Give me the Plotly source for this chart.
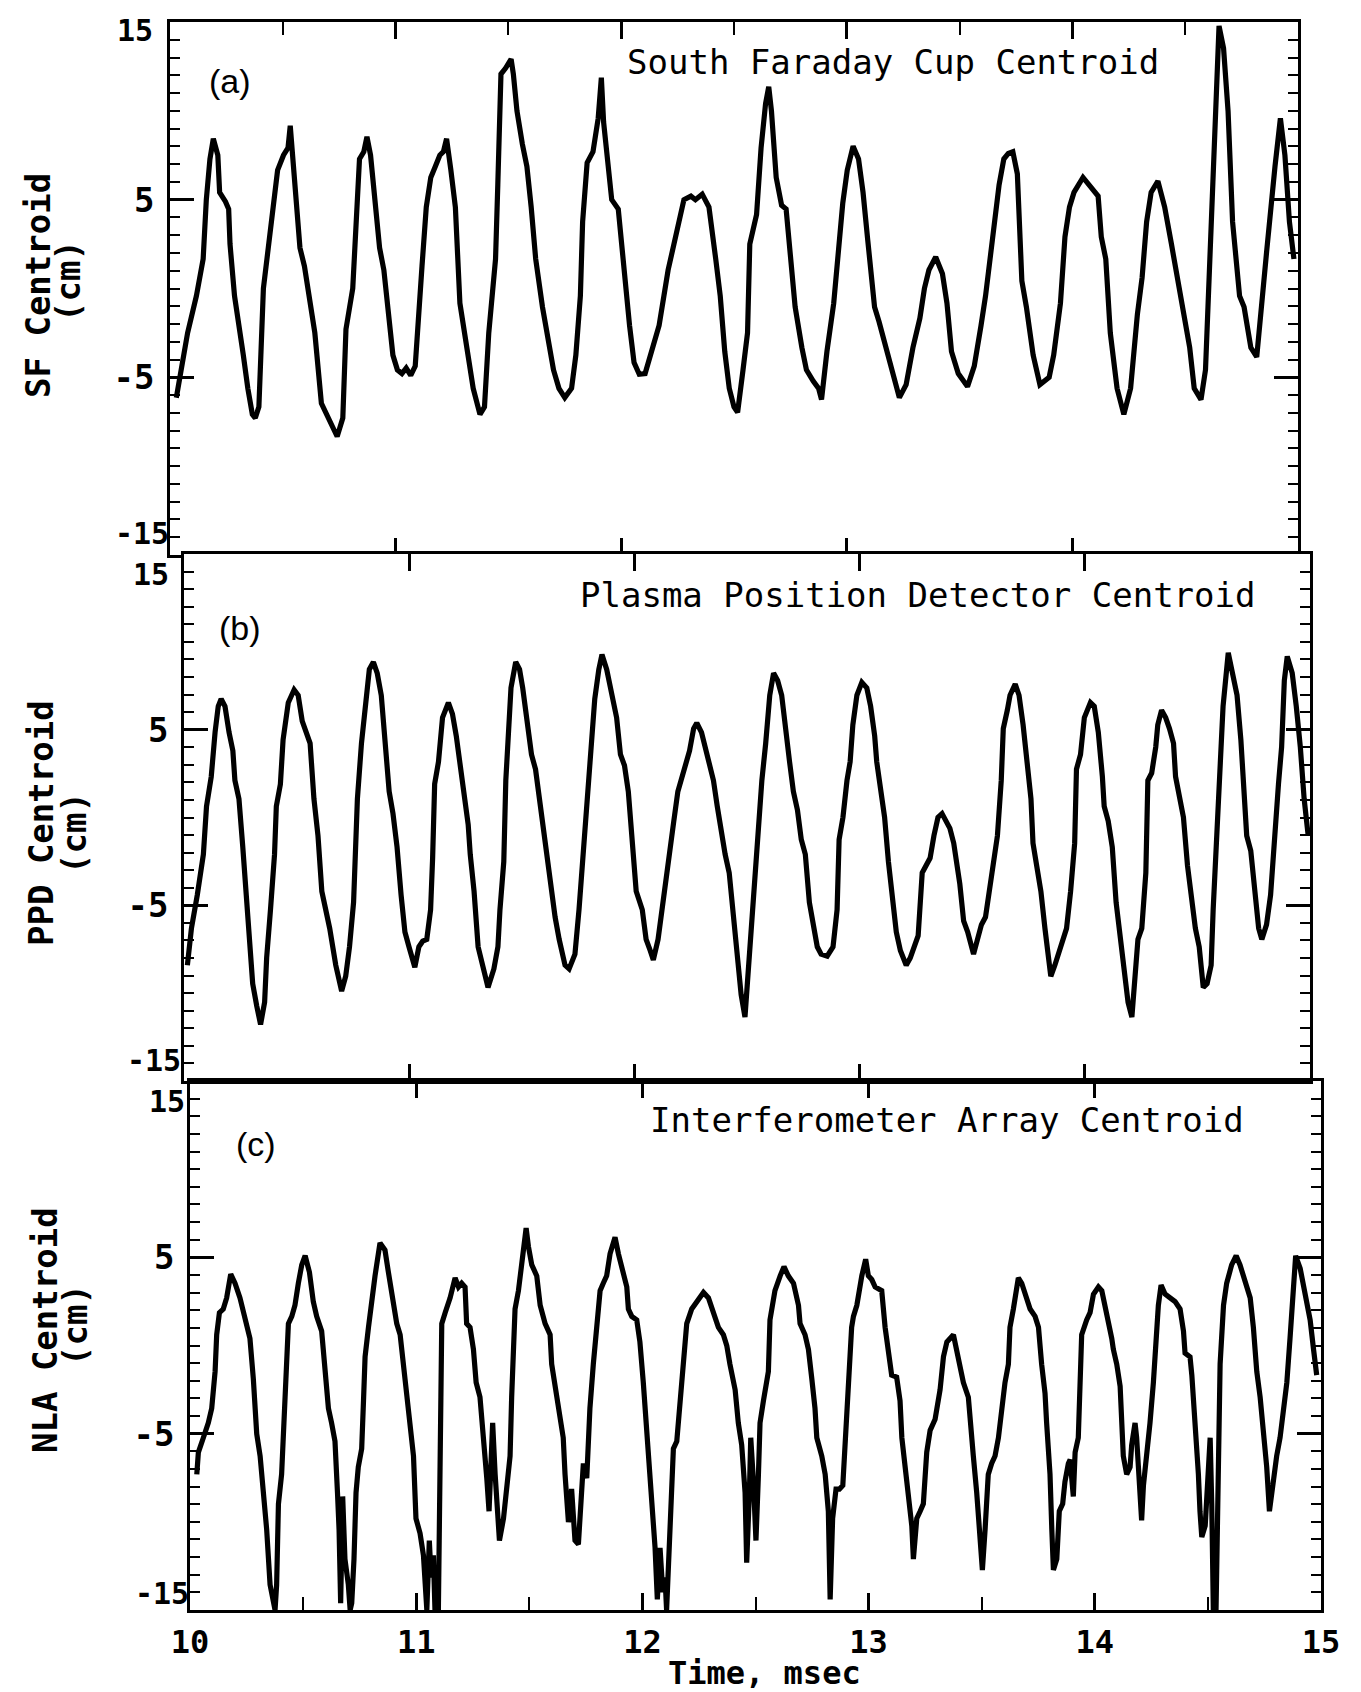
import plotly.graph_objects as go

W, H = 1361, 1692

# ---------------- data (time in msec, centroid in cm) ----------------
sf_t = [10.028,10.078,10.117,10.147,10.161,10.177,10.192,10.212,10.220,10.246,10.260,10.266,10.286,10.305,10.325,10.345,10.365,10.378,10.394,10.414,
        10.434,10.458,10.477,10.503,10.523,10.533,10.543,10.562,10.576,10.596,10.616,10.642,10.671,10.711,10.741,10.766,10.780,10.810,10.830,10.840,
        10.859,10.873,10.889,10.909,10.929,10.948,10.968,10.988,11.008,11.028,11.047,11.067,11.087,11.097,11.117,11.136,11.156,11.176,11.196,11.212,
        11.226,11.245,11.265,11.285,11.315,11.344,11.374,11.394,11.413,11.443,11.453,11.467,11.487,11.512,11.522,11.538,11.562,11.582,11.601,11.621,
        11.651,11.671,11.700,11.724,11.750,11.780,11.799,11.819,11.829,11.849,11.875,11.898,11.912,11.922,11.934,11.958,11.987,12.007,12.037,12.057,
        12.080,12.106,12.168,12.208,12.238,12.278,12.309,12.329,12.359,12.389,12.419,12.439,12.459,12.479,12.500,12.516,12.540,12.560,12.570,12.600,
        12.620,12.640,12.654,12.666,12.687,12.711,12.731,12.751,12.771,12.801,12.821,12.851,12.875,12.888,12.912,12.942,12.962,12.982,13.002,13.028,
        13.052,13.072,13.093,13.123,13.143,13.173,13.203,13.233,13.263,13.283,13.293,13.324,13.344,13.364,13.394,13.424,13.444,13.464,13.494,13.535,
        13.565,13.595,13.615,13.645,13.675,13.696,13.716,13.736,13.756,13.776,13.796,13.826,13.856,13.897,13.917,13.947,13.967,13.987,14.007,14.047,
        14.088,14.114,14.128,14.148,14.168,14.198,14.228,14.258,14.288,14.309,14.329,14.349,14.379,14.409,14.439,14.469,14.490,14.520,14.540,14.570,
        14.590,14.610,14.630,14.650,14.670,14.690,14.710,14.741,14.761,14.791,14.817,14.841,14.861,14.898,14.922,14.942,14.962,14.982]
sf_v = [-6.15,-2.50,-0.42,1.66,5.00,7.29,8.43,7.50,5.41,4.89,4.47,2.50,-0.42,-1.88,-3.75,-5.62,-7.08,-7.29,-6.66,0.00,
        2.29,5.00,6.66,7.50,7.91,9.16,7.70,4.58,2.29,1.25,-0.42,-2.50,-6.46,-7.50,-8.33,-7.29,-2.29,0.00,4.79,7.29,
        7.70,8.54,7.50,4.58,2.29,1.04,-1.46,-3.75,-4.58,-4.79,-4.48,-4.89,-4.37,-2.08,1.25,4.58,6.25,6.87,7.50,7.70,
        8.43,6.66,4.58,-0.83,-3.33,-5.62,-7.08,-6.66,-2.50,1.66,5.83,12.07,12.39,12.91,12.07,9.99,8.12,6.87,4.58,1.66,
        -1.04,-2.50,-4.58,-5.62,-6.14,-5.62,-3.75,-0.42,3.75,7.08,7.70,9.58,11.87,9.37,7.91,5.00,4.47,1.66,-2.08,-4.17,
        -4.83,-4.79,-2.08,1.04,2.70,5.00,5.20,5.00,5.31,4.58,1.66,-0.42,-3.54,-5.62,-6.66,-6.97,-4.58,-2.50,2.50,4.16,
        7.91,10.41,11.35,9.99,6.25,4.68,4.47,1.66,-1.04,-3.33,-4.58,-5.21,-5.62,-6.25,-3.54,-0.83,2.29,4.79,6.66,8.01,
        7.29,5.41,2.70,-1.04,-1.87,-3.33,-4.58,-6.14,-5.41,-3.75,-3.33,-1.67,0.00,1.04,1.77,0.83,-0.83,-3.54,-4.79,-5.52,
        -4.37,-2.08,-0.42,2.70,5.83,7.29,7.60,7.70,6.45,0.42,-1.04,-3.75,-5.41,-5.00,-3.75,-0.83,2.91,4.58,5.41,6.25,
        5.62,5.20,2.91,1.66,-2.50,-5.62,-7.08,-5.62,-1.46,0.62,3.75,5.41,6.04,4.58,2.50,0.42,-1.04,-3.33,-5.62,-6.25,
        -4.58,1.66,7.91,14.78,13.53,9.99,3.75,-0.42,-1.04,-3.33,-3.85,-0.42,2.08,6.87,9.58,7.50,3.75,1.66]

ppd_t = [10.015,10.033,10.059,10.086,10.100,10.121,10.138,10.152,10.165,10.182,10.200,10.217,10.226,10.244,10.261,10.275,10.288,10.305,10.323,10.340,
         10.358,10.367,10.384,10.402,10.410,10.428,10.440,10.463,10.489,10.507,10.525,10.542,10.560,10.577,10.595,10.612,10.630,10.647,10.674,10.700,
         10.718,10.735,10.753,10.770,10.788,10.805,10.823,10.841,10.858,10.876,10.893,10.911,10.928,10.946,10.964,10.981,10.999,11.016,11.025,11.043,
         11.060,11.078,11.095,11.104,11.113,11.130,11.148,11.174,11.192,11.209,11.227,11.245,11.262,11.271,11.288,11.306,11.324,11.350,11.376,11.394,
         11.403,11.420,11.429,11.438,11.452,11.473,11.490,11.504,11.522,11.543,11.561,11.578,11.596,11.613,11.631,11.648,11.666,11.692,11.710,11.736,
         11.754,11.771,11.789,11.806,11.824,11.842,11.856,11.877,11.903,11.921,11.938,11.956,11.973,11.991,12.008,12.035,12.052,12.070,12.084,12.105,
         12.122,12.140,12.158,12.175,12.193,12.210,12.228,12.245,12.263,12.277,12.298,12.315,12.333,12.351,12.368,12.386,12.403,12.421,12.438,12.456,
         12.474,12.491,12.513,12.531,12.548,12.566,12.583,12.601,12.618,12.636,12.654,12.671,12.689,12.706,12.724,12.741,12.759,12.777,12.794,12.812,
         12.829,12.856,12.882,12.900,12.909,12.926,12.944,12.958,12.970,12.988,13.010,13.032,13.049,13.067,13.076,13.093,13.111,13.128,13.146,13.163,
         13.181,13.207,13.225,13.243,13.260,13.278,13.295,13.313,13.330,13.348,13.366,13.383,13.401,13.418,13.427,13.445,13.462,13.480,13.506,13.524,
         13.541,13.559,13.577,13.594,13.612,13.629,13.638,13.656,13.668,13.691,13.708,13.726,13.744,13.761,13.770,13.788,13.805,13.823,13.840,13.849,
         13.867,13.884,13.902,13.919,13.937,13.955,13.963,13.981,13.998,14.025,14.042,14.060,14.078,14.086,14.104,14.122,14.139,14.157,14.174,14.192,
         14.209,14.227,14.236,14.253,14.271,14.280,14.297,14.315,14.324,14.341,14.359,14.376,14.394,14.403,14.420,14.438,14.456,14.473,14.491,14.508,
         14.526,14.543,14.561,14.570,14.587,14.605,14.614,14.637,14.658,14.676,14.693,14.702,14.719,14.737,14.755,14.772,14.786,14.807,14.825,14.842,
         14.860,14.874,14.886,14.899,14.921,14.939,14.957,14.974,14.992]
ppd_v = [-8.41,-6.31,-4.41,-2.10,0.64,2.33,4.85,6.33,6.75,6.33,4.85,3.80,2.11,1.06,-1.68,-4.20,-6.94,-9.46,-10.73,-11.78,
         -10.52,-7.99,-5.25,-2.10,0.64,1.90,4.43,6.54,7.27,6.96,5.48,4.85,4.22,1.06,-1.04,-4.20,-5.25,-6.31,-8.41,-9.88,
         -9.04,-7.36,-4.83,1.06,4.22,6.54,8.43,8.85,8.22,6.96,4.22,1.48,0.22,-1.68,-4.41,-6.52,-7.36,-8.20,-8.52,-7.36,
         -7.04,-6.94,-5.25,-2.31,1.90,3.17,5.69,6.54,5.90,4.64,2.74,1.06,-0.41,-2.10,-4.20,-7.36,-8.41,-9.67,-8.62,-7.36,
         -5.25,-2.52,2.11,4.43,7.38,8.85,8.43,7.38,5.69,3.59,2.74,1.06,-0.62,-2.52,-4.20,-5.68,-6.94,-8.41,-8.62,-7.78,
         -5.25,-2.10,1.06,4.01,6.75,8.43,9.27,8.43,6.96,5.69,3.59,2.96,1.48,-1.04,-4.20,-5.25,-6.94,-7.57,-8.10,-6.94,
         -5.25,-3.15,-1.46,-0.20,1.48,2.33,3.17,3.80,5.06,5.38,4.85,4.01,3.17,2.11,0.64,-1.04,-2.10,-3.15,-5.25,-7.36,
         -10.09,-11.36,-7.36,-4.20,-1.04,2.11,4.22,6.96,8.22,7.80,6.96,4.85,3.17,1.48,0.43,-1.25,-2.10,-4.83,-5.89,-7.36,
         -7.78,-7.89,-7.36,-5.25,-1.25,0.01,2.11,3.17,5.27,6.96,7.69,7.38,6.33,4.64,3.17,1.48,0.01,-2.52,-4.83,-6.52,
         -7.57,-8.41,-7.99,-7.36,-6.73,-3.15,-2.73,-2.31,-1.04,0.01,0.22,-0.20,-0.62,-1.46,-2.10,-3.78,-5.89,-6.52,-7.78,-6.94,
         -6.10,-5.67,-3.99,-2.73,-1.04,2.11,5.06,6.11,6.96,7.59,6.96,5.27,2.74,1.06,-1.46,-2.73,-4.20,-6.31,-8.41,-9.04,
         -8.41,-7.78,-6.94,-6.31,-4.20,-1.46,2.75,3.59,5.69,6.54,6.33,4.85,2.33,0.64,-0.20,-1.68,-4.83,-6.94,-9.04,-10.52,
         -11.36,-8.41,-6.94,-6.31,-3.15,2.11,2.53,4.01,5.27,6.11,5.69,5.06,4.22,2.33,1.06,0.01,-2.73,-4.41,-6.31,-7.36,
         -9.67,-9.46,-8.41,-5.25,-1.04,3.17,6.33,9.38,8.22,6.96,4.43,2.11,-1.04,-1.89,-4.20,-6.31,-6.94,-6.10,-4.41,-1.04,
         1.90,4.01,7.80,9.17,8.22,6.33,4.01,1.06,-1.04]

nla_t = [10.030,10.037,10.059,10.081,10.096,10.111,10.118,10.130,10.147,10.162,10.180,10.199,10.221,10.243,10.265,10.280,10.295,10.310,10.324,10.339,
         10.354,10.376,10.383,10.391,10.405,10.420,10.428,10.435,10.450,10.464,10.479,10.494,10.509,10.528,10.545,10.560,10.582,10.597,10.612,10.626,
         10.641,10.652,10.659,10.666,10.675,10.685,10.700,10.708,10.715,10.725,10.734,10.744,10.759,10.767,10.774,10.789,10.803,10.818,10.840,10.862,
         10.877,10.892,10.914,10.929,10.943,10.958,10.973,10.988,10.999,11.017,11.032,11.047,11.058,11.066,11.076,11.083,11.098,11.106,11.113,11.128,
         11.150,11.172,11.187,11.201,11.216,11.223,11.238,11.253,11.265,11.282,11.297,11.312,11.322,11.338,11.349,11.368,11.386,11.400,11.415,11.422,
         11.430,11.437,11.452,11.474,11.486,11.496,11.511,11.533,11.548,11.570,11.592,11.599,11.621,11.650,11.658,11.673,11.687,11.702,11.717,11.732,
         11.739,11.754,11.768,11.783,11.798,11.813,11.827,11.842,11.857,11.879,11.894,11.908,11.931,11.938,11.953,11.975,11.989,12.004,12.016,12.026,
         12.041,12.056,12.066,12.078,12.090,12.100,12.107,12.122,12.137,12.152,12.166,12.181,12.196,12.218,12.240,12.270,12.292,12.314,12.336,12.358,
         12.373,12.387,12.402,12.410,12.424,12.439,12.454,12.461,12.473,12.479,12.491,12.502,12.513,12.520,12.535,12.557,12.564,12.586,12.609,12.626,
         12.645,12.668,12.690,12.697,12.719,12.734,12.749,12.763,12.771,12.793,12.808,12.822,12.830,12.841,12.856,12.871,12.886,12.896,12.911,12.925,
         12.933,12.948,12.970,12.987,12.999,13.014,13.029,13.058,13.073,13.088,13.102,13.124,13.139,13.147,13.161,13.176,13.191,13.198,13.213,13.228,
         13.242,13.257,13.272,13.294,13.316,13.331,13.346,13.375,13.389,13.412,13.419,13.441,13.448,13.463,13.478,13.493,13.503,13.515,13.529,13.544,
         13.559,13.574,13.588,13.603,13.618,13.625,13.640,13.662,13.677,13.699,13.714,13.736,13.751,13.765,13.780,13.787,13.802,13.810,13.817,13.832,
         13.843,13.858,13.868,13.883,13.891,13.905,13.913,13.927,13.935,13.942,13.964,13.979,13.994,14.016,14.031,14.045,14.060,14.075,14.082,14.097,
         14.112,14.119,14.126,14.141,14.156,14.163,14.178,14.185,14.197,14.207,14.215,14.230,14.244,14.259,14.274,14.281,14.293,14.311,14.333,14.355,
         14.377,14.392,14.399,14.421,14.429,14.436,14.451,14.458,14.465,14.473,14.488,14.498,14.510,14.517,14.524,14.536,14.542,14.547,14.554,14.569,
         14.583,14.605,14.625,14.642,14.664,14.687,14.701,14.716,14.731,14.745,14.760,14.772,14.787,14.804,14.819,14.834,14.849,14.863,14.878,14.888,
         14.908,14.930,14.952,14.967,14.981]
nla_v = [-7.31,-6.06,-5.23,-4.39,-3.56,-1.47,0.61,1.86,2.07,2.70,4.05,3.53,2.70,1.45,0.40,-1.89,-5.02,-6.27,-8.35,-10.44,
         -13.57,-15.00,-13.57,-8.98,-7.31,-3.14,-0.43,1.24,1.65,2.28,3.53,4.57,5.09,4.16,2.49,1.65,0.82,-1.06,-3.56,-4.39,
         -5.43,-8.35,-10.44,-14.61,-8.56,-12.11,-13.57,-15.00,-14.61,-12.11,-8.35,-6.89,-5.85,-3.14,-0.64,1.03,2.70,3.95,5.82,5.41,
         4.16,3.11,1.24,0.61,-1.06,-2.31,-4.18,-6.27,-9.81,-10.65,-11.90,-15.00,-11.06,-13.15,-11.90,-15.00,-15.00,-1.89,1.24,1.86,
         2.70,3.84,3.32,3.53,3.32,1.24,1.03,-0.22,-2.10,-2.93,-5.02,-7.52,-9.40,-4.39,-7.31,-11.06,-9.81,-7.73,-6.27,-2.93,
         1.03,2.07,3.11,5.20,6.66,5.62,4.57,3.95,2.28,1.24,0.61,-1.06,-2.72,-5.23,-7.31,-10.02,-8.14,-11.06,-11.27,-7.31,
         -6.69,-7.52,-3.56,-1.06,1.03,3.11,3.53,3.95,5.20,6.14,5.20,4.37,3.32,2.07,1.65,1.45,0.20,-2.10,-4.18,-6.27,
         -8.35,-11.48,-14.40,-11.48,-13.98,-13.15,-15.00,-9.40,-5.85,-5.43,-3.14,-0.43,1.24,2.07,2.49,3.01,2.70,1.86,1.03,0.61,
         -0.01,-1.06,-2.10,-2.51,-4.39,-5.64,-8.35,-12.31,-8.35,-5.23,-7.73,-11.06,-7.31,-4.39,-3.14,-1.47,1.45,3.11,3.95,4.47,
         3.95,3.53,2.28,1.24,0.61,-0.22,-1.89,-3.56,-5.23,-6.27,-7.31,-9.40,-14.40,-9.81,-8.14,-8.14,-7.94,-5.43,-2.31,1.03,
         1.65,2.28,3.95,4.89,3.95,3.74,3.32,3.11,1.03,-0.64,-1.68,-1.79,-3.14,-5.23,-6.89,-8.35,-10.23,-12.11,-9.81,-9.40,
         -8.98,-6.06,-4.81,-4.18,-2.51,-0.64,0.20,0.61,-0.22,-1.47,-2.10,-2.93,-4.18,-6.27,-8.35,-11.06,-12.73,-10.44,-7.31,-6.69,
         -6.27,-5.23,-3.56,-2.10,-1.06,1.03,2.07,3.84,3.53,2.70,2.07,1.65,1.03,-1.06,-2.72,-4.39,-7.31,-10.44,-12.73,-12.11,
         -9.40,-8.98,-7.73,-6.69,-6.48,-8.56,-6.06,-5.23,-2.10,0.61,1.45,1.86,2.91,3.32,3.11,2.28,1.45,0.40,-0.22,-1.06,
         -2.31,-4.39,-6.27,-7.31,-6.89,-5.64,-4.39,-5.23,-8.35,-9.92,-7.94,-6.27,-4.39,-2.10,0.82,2.28,3.43,2.91,2.70,2.49,
         2.07,0.82,-0.43,-0.64,-1.68,-3.14,-5.23,-7.31,-9.40,-10.86,-10.23,-7.73,-5.23,-8.98,-15.00,-15.00,-10.44,-5.23,-1.06,2.28,
         3.53,4.57,5.09,4.57,3.53,2.70,1.03,-1.47,-2.93,-4.81,-6.89,-9.40,-7.73,-6.27,-5.23,-3.56,-2.10,0.40,3.11,5.09,
         4.37,2.70,1.45,-0.22,-1.68]

x_ticks = [10, 11, 12, 13, 14, 15]
x_half_ticks = [10.5, 11.5, 12.5, 13.5, 14.5]
y_ticks = [-5, 5]
y_tick_text = ["-5", "5"]
panel_titles = ["South Faraday Cup Centroid", "Plasma Position Detector Centroid", "Interferometer Array Centroid"]
panel_tags = ["(a)", "(b)", "(c)"]
y_titles = ["SF Centroid", "PPD Centroid", "NLA Centroid"]

# ---------------- layout geometry (pixels) ----------------
def px(x):
    return x / W

def py(y):
    return 1 - y / H

panels = [
    dict(l=170, r=1298, t=22, b=555),
    dict(l=184, r=1310, t=554, b=1081),
    dict(l=190, r=1321, t=1081, b=1610),
]

series = [(sf_t, sf_v), (ppd_t, ppd_v), (nla_t, nla_v)]

MONO = "DejaVu Sans Mono"
fig = go.Figure()
for i, (tt, vv) in enumerate(series):
    k = "" if i == 0 else str(i + 1)
    fig.add_trace(go.Scatter(x=tt, y=vv, mode="lines", xaxis="x" + k, yaxis="y" + k,
                             line=dict(color="black", width=5.2), showlegend=False,
                             hoverinfo="skip"))
    p = panels[i]
    fig.layout["xaxis" + k] = dict(
        domain=[px(p["l"]), px(p["r"])], range=[10, 15], anchor="y" + k,
        showline=True, linecolor="black", linewidth=2.6, mirror="ticks",
        ticks="inside", ticklen=17, tickwidth=2.6, tickcolor="black",
        tickvals=x_ticks, showgrid=False, zeroline=False, automargin=False,
        showticklabels=(i == 2), ticklabelstandoff=2,
        tickfont=dict(family=MONO, size=32, color="black", weight="bold"),
        fixedrange=True,
    )
    fig.layout["yaxis" + k] = dict(
        domain=[py(p["b"]), py(p["t"])], range=[-15, 15], anchor="x" + k,
        showline=True, linecolor="black", linewidth=2.6, mirror="ticks",
        ticks="inside", ticklen=24, tickwidth=2.6, tickcolor="black",
        tickvals=y_ticks, ticktext=y_tick_text, showgrid=False, zeroline=False,
        automargin=False, ticklabelstandoff=6,
        tickfont=dict(family=MONO, size=34, color="black", weight="bold"),
        minor=dict(ticks="inside", dtick=1, tick0=0, ticklen=10, tickwidth=2.2,
                   tickcolor="black", showgrid=False),
        fixedrange=True,
    )

# half-msec ticks: top of panel (a) and bottom of panel (c) only
fig.add_trace(go.Scatter(x=[10, 15], y=[0, 0], xaxis="x4", yaxis="y", mode="lines",
                         line=dict(width=0, color="rgba(0,0,0,0)"), showlegend=False, hoverinfo="skip"))
fig.add_trace(go.Scatter(x=[10, 15], y=[0, 0], xaxis="x5", yaxis="y3", mode="lines",
                         line=dict(width=0, color="rgba(0,0,0,0)"), showlegend=False, hoverinfo="skip"))
fig.layout["xaxis4"] = dict(overlaying="x", anchor="y", side="top", range=[10, 15],
                            tickvals=x_half_ticks, ticks="inside", ticklen=13, tickwidth=2.4,
                            tickcolor="black", showline=False, showgrid=False, zeroline=False,
                            showticklabels=False, automargin=False, fixedrange=True)
fig.layout["xaxis5"] = dict(overlaying="x3", anchor="y3", side="bottom", range=[10, 15],
                            tickvals=x_half_ticks, ticks="inside", ticklen=13, tickwidth=2.4,
                            tickcolor="black", showline=False, showgrid=False, zeroline=False,
                            showticklabels=False, automargin=False, fixedrange=True)

ann = []
title_pos = [(893, 62), (918, 595), (947, 1120)]
tag_pos = [(230, 81), (240, 628), (256, 1144)]
ytitle_pos = [((38, 286), (68, 281)), ((41, 823), (74, 833)), ((45, 1330), (75, 1325))]
for i in range(3):
    ann.append(dict(x=px(title_pos[i][0]), y=py(title_pos[i][1]), xref="paper", yref="paper",
                    text=panel_titles[i], showarrow=False, xanchor="center", yanchor="middle",
                    font=dict(family=MONO, size=34, color="black")))
    ann.append(dict(x=px(tag_pos[i][0]), y=py(tag_pos[i][1]), xref="paper", yref="paper",
                    text=panel_tags[i], showarrow=False, xanchor="center", yanchor="middle",
                    font=dict(family="Liberation Sans", size=34, color="black")))
    (a1, a2) = ytitle_pos[i]
    ann.append(dict(x=px(a1[0]), y=py(a1[1]), xref="paper", yref="paper",
                    text="<b>" + y_titles[i] + "</b>", showarrow=False, textangle=-90,
                    xanchor="center", yanchor="middle",
                    font=dict(family=MONO, size=34, color="black")))
    ann.append(dict(x=px(a2[0]), y=py(a2[1]), xref="paper", yref="paper",
                    text="<b>(cm)</b>", showarrow=False, textangle=-90,
                    xanchor="center", yanchor="middle",
                    font=dict(family=MONO, size=34, color="black")))

# end-of-range labels (+15 just under each top edge, -15 just above each bottom edge)
edge_labels = [("15", 154, 12, "top"), ("-15", 170, 552, "bottom"),
               ("15", 170, 556, "top"), ("-15", 182, 1079, "bottom"),
               ("15", 186, 1083, "top"), ("-15", 190, 1612, "bottom")]
for txt, xr, yy, anc in edge_labels:
    ann.append(dict(x=px(xr), y=py(yy), xref="paper", yref="paper", text="<b>" + txt + "</b>",
                    showarrow=False, xanchor="right", yanchor=anc, borderpad=0,
                    font=dict(family=MONO, size=30, color="black")))

ann.append(dict(x=px(764), y=py(1693), xref="paper", yref="paper",
                text="<b>Time, msec</b>", showarrow=False, xanchor="center", yanchor="bottom",
                borderpad=0, font=dict(family=MONO, size=32, color="black")))

fig.update_layout(
    width=W, height=H, autosize=False,
    margin=dict(l=0, r=0, t=0, b=0, pad=0),
    paper_bgcolor="white", plot_bgcolor="white",
    annotations=ann, showlegend=False,
)

fig.write_html("out.html", config={"displayModeBar": False})
